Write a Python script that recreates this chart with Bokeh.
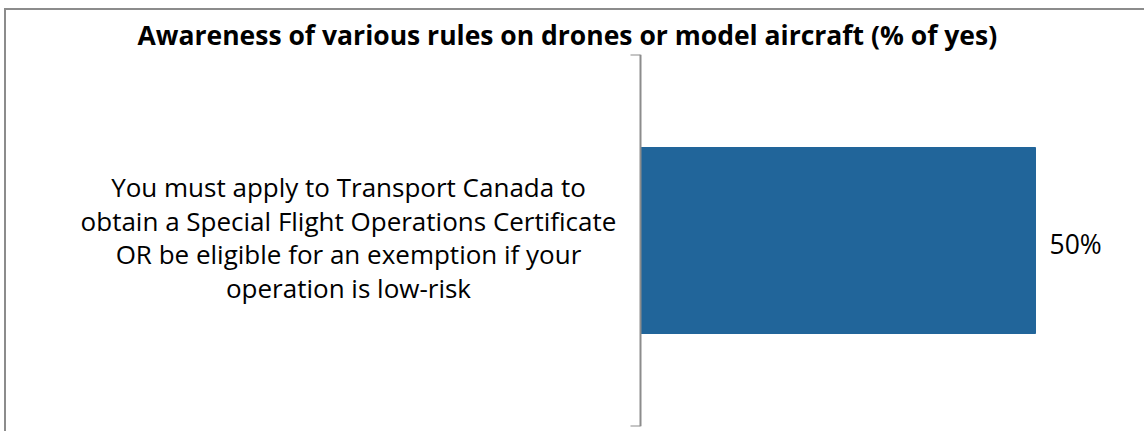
from bokeh.plotting import figure
from bokeh.models import ColumnDataSource, Range1d, Span
from bokeh.core.properties import value
from bokeh.embed import file_html
from bokeh.resources import INLINE

title = "Awareness of various rules on drones or model aircraft (% of yes)"
categories = ["You must apply to Transport Canada to\nobtain a Special Flight Operations Certificate\nOR be eligible for an exemption if your\noperation is low-risk"]
positions = [0.5]
values = [50]
labels = ["50%"]
axis_ends = [0, 1]

# layout (pixels on the canvas)
W, H = 1140, 423
AXIS_PX = 634          # where value 0 sits
PX_PER_UNIT = 7.9      # horizontal scale
BORDER_R = 16
frame_w = W - BORDER_R
x_start = -AXIS_PX / PX_PER_UNIT
x_end = (frame_w - AXIS_PX) / PX_PER_UNIT

src = ColumnDataSource(dict(y=positions, v=values, lab=labels, cat=categories, zero=[0] * len(values)))

p = figure(width=W, height=H, output_backend="svg", toolbar_location=None,
           x_range=Range1d(x_start, x_end), y_range=Range1d(0, 1),
           min_border_left=0, min_border_right=BORDER_R, min_border_bottom=7, min_border_top=44)
p.outline_line_color = None
p.background_fill_color = "white"
p.border_fill_color = "white"
p.grid.visible = False
p.xaxis.visible = False
p.yaxis.visible = False

p.title.text = title
p.title.align = "left"
p.title.offset = 131
p.title.standoff = 4
p.title.text_font = "Open Sans"
p.title.text_font_style = "bold"
p.title.text_font_size = "26.5px"
p.title.text_color = "black"

# category axis line with end ticks
p.add_layout(Span(location=0, dimension="height", line_color="#8c8c8c", line_width=2))
p.ray(x=[0] * len(axis_ends), y=axis_ends, length=10, length_units="screen",
      angle=180, angle_units="deg", line_color="#8c8c8c", line_width=2)

# category label
p.text(x="zero", y="y", text="cat", source=src, x_offset=-292, y_offset=-3, text_align="center",
       text_baseline="middle", text_font=value("Open Sans"), text_font_size="26px",
       text_color="black", text_line_height=0.94)

p.hbar(y="y", right="v", left=0, height=0.5, source=src, color="#21659a")
p.text(x="v", y="y", text="lab", source=src, x_offset=14, y_offset=3, text_baseline="middle",
       text_align="left", text_font=value("Open Sans"), text_font_size="26.5px", text_color="black")

p.styles = {"margin-left": "4px", "margin-top": "8px",
            "border-top": "2px solid #8c8c8c", "border-left": "2px solid #8c8c8c"}

open("out.html", "w").write(file_html(p, INLINE))
